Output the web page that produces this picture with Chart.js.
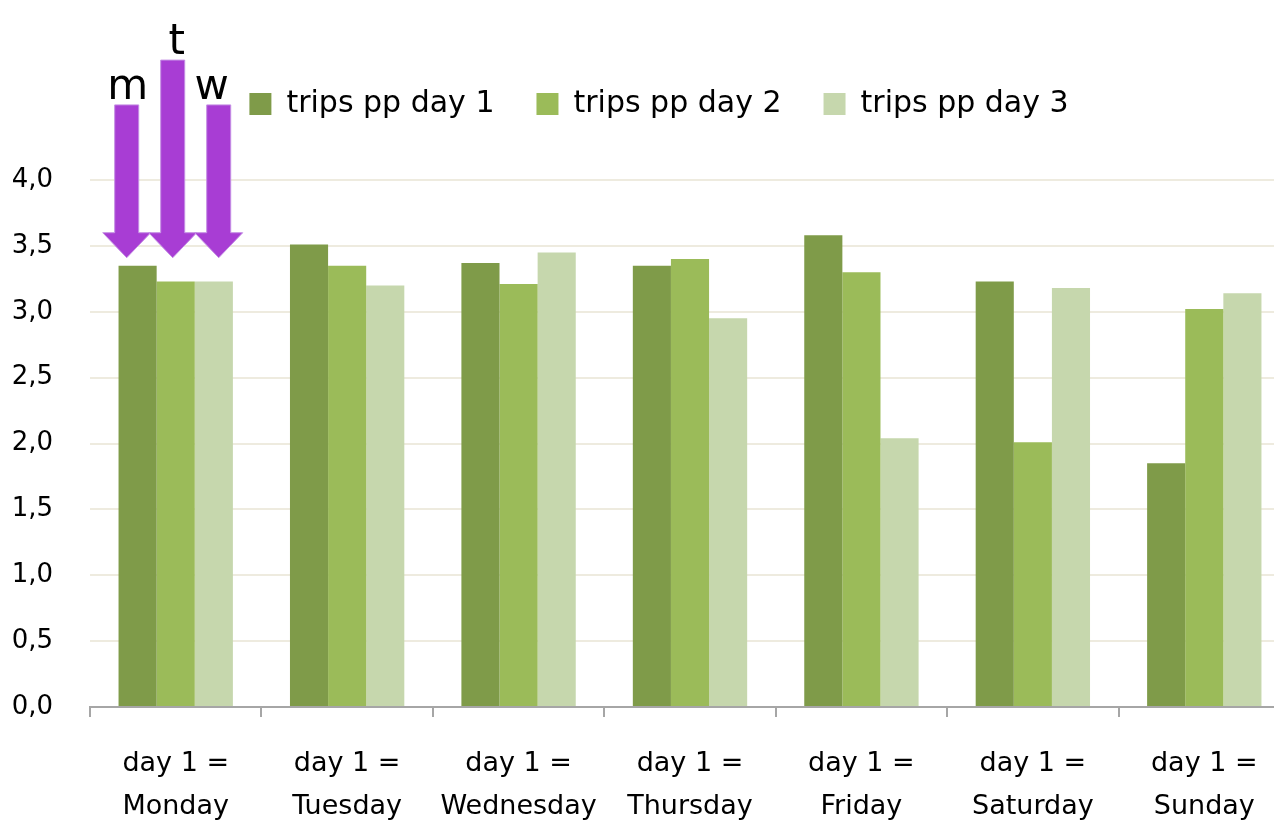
<!DOCTYPE html>
<html>
<head>
<meta charset="utf-8">
<script src="https://cdn.jsdelivr.net/npm/chart.js@4.4.1/dist/chart.umd.min.js"></script>
<style>
  html, body { margin: 0; padding: 0; background: #fff; overflow: hidden; }
  #wrap { width: 1292px; height: 824px; }
</style>
</head>
<body>
<div id="wrap"><canvas id="c" width="1292" height="824"></canvas></div>
<script>
// trips per person per day, grouped by which weekday "day 1" was
const dayLabels = [
    ['day 1 =', 'Monday'], ['day 1 =', 'Tuesday'], ['day 1 =', 'Wednesday'],
    ['day 1 =', 'Thursday'], ['day 1 =', 'Friday'], ['day 1 =', 'Saturday'], ['day 1 =', 'Sunday']
];
const seriesNames = ['trips pp day 1', 'trips pp day 2', 'trips pp day 3'];
const tripsDay1 = [3.35, 3.51, 3.37, 3.35, 3.58, 3.23, 1.85];
const tripsDay2 = [3.23, 3.35, 3.21, 3.40, 3.30, 2.01, 3.02];
const tripsDay3 = [3.23, 3.20, 3.45, 2.95, 2.04, 3.18, 3.14];
const yTicks = [0, 0.5, 1, 1.5, 2, 2.5, 3, 3.5, 4];

// arrow annotation over the Monday group
const arrowLabels = ['m', 't', 'w'];
const arrowTops = [4.57, 4.91, 4.57];
const arrowTip = 3.41;

const colors = ['#7f9b49', '#9bbb59', '#c6d7ad'];
const FONT = "'DejaVu Sans', sans-serif";

const layoutFix = {
    id: 'layoutFix',
    beforeLayout(chart) {
        const lg = chart.legend;
        if (lg && !lg._fixed) {
            const fit = lg.fit;
            lg.fit = function () { fit.call(this); this.height = 133; };
            lg._fixed = true;
        }
    },
    afterLayout(chart) {
        // legend sits a little right of centre in the original
        const lg = chart.legend;
        if (lg) { lg.left += 14; lg.right += 14; }
    }
};

const arrows = {
    id: 'arrows',
    afterDraw(chart) {
        const ctx = chart.ctx;
        const x = chart.scales.x, y = chart.scales.y;
        const cx = x.getPixelForValue(0) - 3;
        const labelDx = [-48, 1, 36];
        const tipY = y.getPixelForValue(arrowTip);
        ctx.save();
        arrowLabels.forEach((lab, i) => {
            const ax = cx + (i - 1) * 46;
            const top = y.getPixelForValue(arrowTops[i]);
            const headH = 25, sw = 12, hw = 24;
            ctx.beginPath();
            ctx.moveTo(ax - sw, top);
            ctx.lineTo(ax + sw, top);
            ctx.lineTo(ax + sw, tipY - headH);
            ctx.lineTo(ax + hw, tipY - headH);
            ctx.lineTo(ax, tipY);
            ctx.lineTo(ax - hw, tipY - headH);
            ctx.lineTo(ax - sw, tipY - headH);
            ctx.closePath();
            ctx.fillStyle = '#a83dd4';
            ctx.fill();
            ctx.strokeStyle = '#c48ee4';
            ctx.lineWidth = 1;
            ctx.stroke();

            ctx.fillStyle = '#000';
            ctx.font = '42px ' + FONT;
            ctx.textAlign = 'center';
            ctx.textBaseline = 'alphabetic';
            ctx.fillText(lab, x.getPixelForValue(0) + labelDx[i], top - 6);
        });
        ctx.restore();
    }
};

new Chart(document.getElementById('c'), {
    type: 'bar',
    data: {
        labels: dayLabels,
        datasets: [tripsDay1, tripsDay2, tripsDay3].map((d, i) => ({
            label: seriesNames[i],
            data: d,
            backgroundColor: colors[i],
            borderWidth: 0,
            categoryPercentage: 0.667,
            barPercentage: 1.0
        }))
    },
    options: {
        responsive: false,
        animation: false,
        devicePixelRatio: 1,
        layout: { padding: { left: 0, right: 2, top: 47, bottom: 0 } },
        plugins: {
            legend: {
                position: 'top',
                labels: {
                    boxWidth: 22, boxHeight: 22, padding: 42,
                    color: '#000',
                    font: { family: FONT, size: 30 }
                }
            },
            tooltip: { enabled: false }
        },
        scales: {
            x: {
                grid: { offset: true, drawOnChartArea: false, drawTicks: true, tickLength: 10, color: '#a6a6a6', lineWidth: 2 },
                border: { color: '#a6a6a6', width: 2 },
                ticks: { color: '#000', padding: 25, maxRotation: 0, autoSkip: false, font: { family: FONT, size: 27, lineHeight: 1.6 } },
                afterFit(s) { s.height = 117; }
            },
            y: {
                min: 0, max: 4,
                afterBuildTicks(s) { s.ticks = yTicks.map(v => ({ value: v })); },
                grid: { color: '#eeebdf', lineWidth: 2, drawTicks: false },
                border: { display: false },
                ticks: {
                    color: '#000', padding: 37,
                    font: { family: FONT, size: 26 },
                    callback: v => v.toFixed(1).replace('.', ',')
                },
                afterFit(s) { s.width = 90; }
            }
        }
    },
    plugins: [layoutFix, arrows]
});
</script>
</body>
</html>
